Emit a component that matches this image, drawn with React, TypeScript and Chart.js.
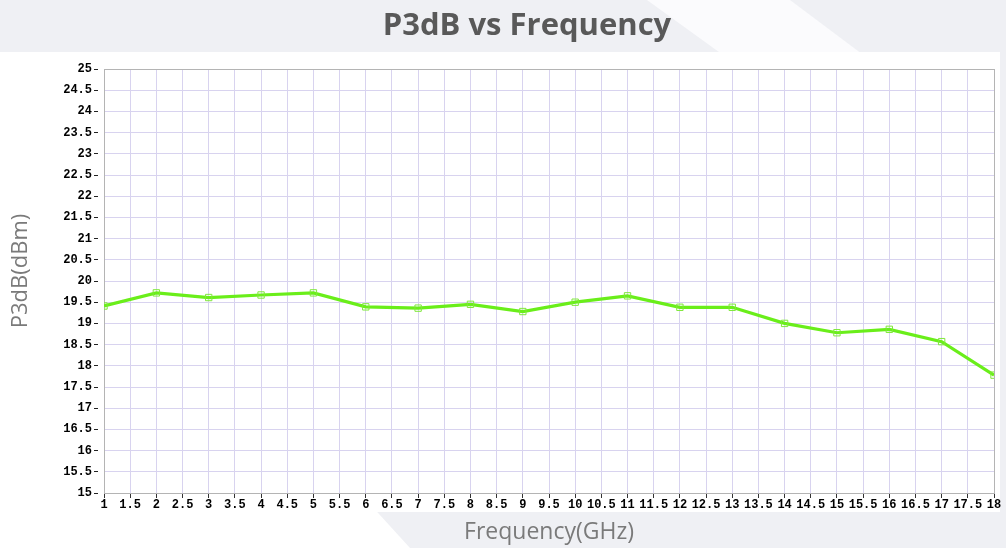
import React, { useEffect, useRef } from 'react';
import { Chart, registerables } from 'chart.js';

Chart.register(...registerables);

// ---- data ----
const frequencies = [1, 2, 3, 4, 5, 6, 7, 8, 9, 10, 11, 12, 13, 14, 15, 16, 17, 18];
const p3dbValues = [19.41, 19.72, 19.61, 19.67, 19.72, 19.39, 19.36, 19.45, 19.28, 19.5, 19.65, 19.38, 19.38, 19.0, 18.78, 18.86, 18.57, 17.78];
const xRange = [1, 18];
const xTickStep = 0.5;
const yRange = [15, 25];
const yTickStep = 0.5;
const chartTitle = 'P3dB vs Frequency';
const xAxisTitle = 'Frequency(GHz)';
const yAxisTitle = 'P3dB(dBm)';

const W = 1006;
const H = 548;

const plotFrame = {
  id: 'plotFrame',
  beforeDraw(chart: any) {
    const { ctx, chartArea: a } = chart;
    ctx.save();
    ctx.fillStyle = '#ffffff';
    ctx.fillRect(a.left, a.top, a.right - a.left, a.bottom - a.top);
    ctx.restore();
  },
  beforeDatasetsDraw(chart: any) {
    const { ctx, chartArea: a } = chart;
    ctx.save();
    ctx.strokeStyle = '#b4b4b4';
    ctx.lineWidth = 1;
    ctx.strokeRect(Math.round(a.left) + 0.5, Math.round(a.top) + 0.5, Math.round(a.right - a.left), Math.round(a.bottom - a.top));
    ctx.restore();
  },
  afterDraw(chart: any) {
    const { ctx } = chart;
    ctx.save();
    ctx.fillStyle = '#595959';
    ctx.font = 'bold 31px "Open Sans"';
    ctx.textAlign = 'center';
    ctx.textBaseline = 'alphabetic';
    ctx.fillText(chartTitle, 527, 35);
    ctx.restore();
    ctx.save();
    ctx.translate(21, 271);
    ctx.rotate(-Math.PI / 2);
    ctx.fillStyle = '#7a7a7a';
    ctx.font = '22px "Open Sans"';
    ctx.textAlign = 'center';
    ctx.textBaseline = 'middle';
    ctx.fillText(yAxisTitle, 0, 0);
    ctx.restore();
  },
};

const fmt = (v: number) => (Number.isInteger(v) ? String(v) : v.toFixed(1));

export default function App() {
  const ref = useRef<HTMLCanvasElement | null>(null);

  useEffect(() => {
    document.body.style.margin = '0';
    const canvas = ref.current;
    if (!canvas) return;
    const chart = new Chart(canvas, {
      type: 'line',
      data: {
        datasets: [
          {
            label: 'P3dB',
            data: frequencies.map((f, i) => ({ x: f, y: p3dbValues[i] })),
            borderColor: '#6aee1a',
            borderWidth: 3.2,
            pointStyle: 'rect',
            pointRadius: 4.5,
            pointBorderWidth: 1,
            pointBorderColor: '#7fe83a',
            pointBackgroundColor: 'rgba(255,255,255,0)',
            tension: 0,
          },
        ],
      },
      plugins: [plotFrame],
      options: {
        responsive: false,
        animation: false,
        devicePixelRatio: 1,
        layout: { padding: { left: 0, right: 12, top: 69, bottom: 0 } },
        plugins: {
          legend: { display: false },
          tooltip: { enabled: false },
          title: { display: false },
        },
        scales: {
          x: {
            type: 'linear',
            min: xRange[0],
            max: xRange[1],
            afterBuildTicks(scale: any) {
              const t = [];
              for (let v = xRange[0]; v <= xRange[1] + 1e-9; v += xTickStep) t.push({ value: v });
              scale.ticks = t;
            },
            afterFit(scale: any) {
              scale.height = 55;
            },
            ticks: {
              autoSkip: false,
              maxRotation: 0,
              minRotation: 0,
              padding: 0,
              color: '#000',
              font: { family: '"Liberation Mono"', size: 12, weight: 'bold' },
              callback: (v: any) => fmt(Number(v)),
            },
            grid: {
              color: '#d8d3ef',
              lineWidth: 1,
              tickLength: 5,
              tickColor: '#333',
              tickWidth: 1,
            },
            border: { display: false },
            title: {
              display: true,
              text: xAxisTitle,
              color: '#7a7a7a',
              font: { family: '"Open Sans"', size: 23 },
              padding: { top: 0, bottom: 2 },
            },
          },
          y: {
            type: 'linear',
            min: yRange[0],
            max: yRange[1],
            afterBuildTicks(scale: any) {
              const t = [];
              for (let v = yRange[0]; v <= yRange[1] + 1e-9; v += yTickStep) t.push({ value: v });
              scale.ticks = t;
            },
            afterFit(scale: any) {
              scale.width = 104;
            },
            ticks: {
              autoSkip: false,
              padding: 2,
              color: '#000',
              font: { family: '"Liberation Mono"', size: 12, weight: 'bold' },
              callback: (v: any) => fmt(Number(v)),
            },
            grid: {
              color: '#d8d3ef',
              lineWidth: 1,
              tickLength: 10,
              tickColor: '#222',
              tickWidth: 1,
              tickBorderDash: [4, 6],
            },
            border: { display: false },
            title: { display: false },
          },
        },
      },
    } as any);
    return () => chart.destroy();
  }, []);

  return (
    <div style={{ position: 'absolute', left: 0, top: 0, width: W, height: H, overflow: 'hidden', background: '#eff0f4' }}>
      <div style={{ position: 'absolute', left: 0, top: 0, width: W, height: 60, background: '#fbfbfd', clipPath: 'polygon(647px 0, 790px 0, 870px 60px, 730px 60px)' }} />
      <div style={{ position: 'absolute', left: 0, top: 52, width: 1000, height: 460, background: '#ffffff' }} />
      <div style={{ position: 'absolute', left: 0, top: 512, width: 410, height: 36, background: '#ffffff', clipPath: 'polygon(0 0, 92% 0, 100% 100%, 0 100%)' }} />
      <canvas ref={ref} width={W} height={H} style={{ position: 'absolute', left: 0, top: 0, width: W, height: H }} />
    </div>
  );
}
